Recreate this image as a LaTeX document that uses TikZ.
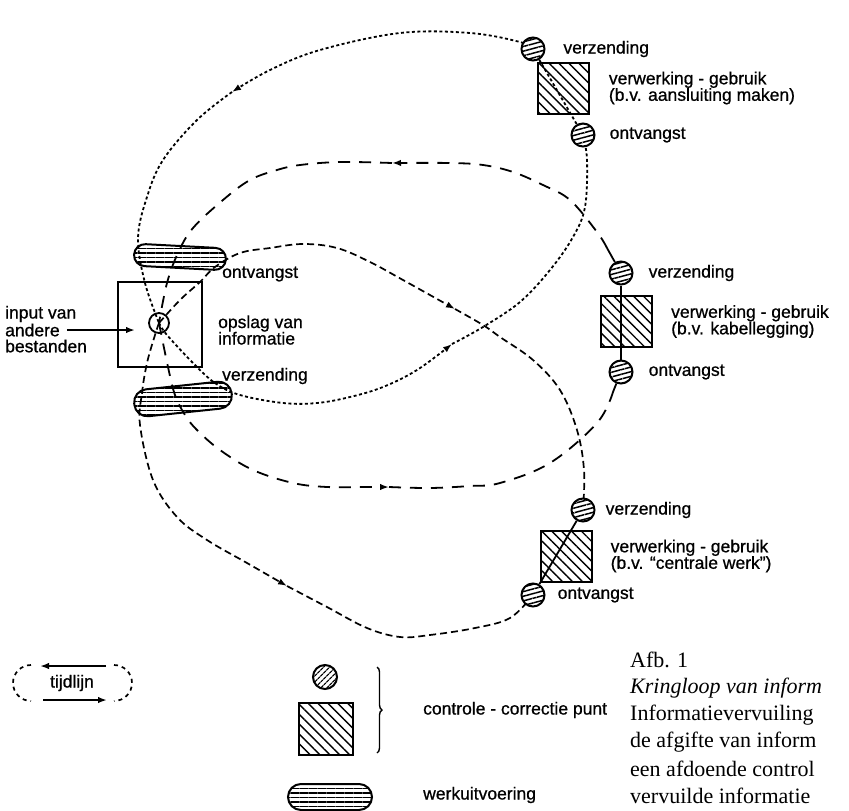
\documentclass[tikz,border=0pt]{standalone}
\usepackage{fontspec}
\newfontfamily\labelfont{Liberation Sans}[FakeBold=0.8]
\newfontfamily\capfont{Liberation Serif}
\usepackage{tikz}
\usetikzlibrary{positioning, arrows.meta, calc, shapes, decorations.pathreplacing, backgrounds, patterns.meta}
\tikzstyle{infotext} =[font=\labelfont\fontsize{17.5}{16.5}\selectfont, inner sep=0pt, anchor=west, align=left]
\tikzstyle{captext} =[font=\capfont\fontsize{22}{27}\selectfont, inner sep=0pt, anchor=west]
\tikzstyle{checkpt} =[circle, draw, line width=2pt, minimum size=23pt, inner sep=0pt, preaction={fill=white}, pattern={Lines[angle=15, distance=4.5pt, line width=1.5pt]}]
\tikzstyle{workbox} =[rectangle, draw, line width=2pt, minimum size=51pt, inner sep=0pt, pattern={Lines[angle=-45, distance=7pt, line width=1.4pt]}]
\tikzstyle{workpill} =[rectangle, draw, line width=2pt, inner sep=0pt, pattern={Lines[angle=0, distance=4.5pt, line width=1.3pt]}]
\tikzstyle{loopA} =[line width=1.8pt, dash pattern=on 3pt off 2.5pt]
\tikzstyle{loopB} =[line width=1.8pt, dash pattern=on 12pt off 9pt]
\tikzstyle{loopC} =[line width=1.7pt, dash pattern=on 7pt off 4pt]
\tikzstyle{tip} =[-{Latex[length=9pt, width=6.5pt]}]

\begin{document}
\begin{tikzpicture}[x=1pt, y=-1pt]
\useasboundingbox (0,0) rectangle (849,811);

% opslag
\node (store) [draw, line width=2pt, minimum width=84pt, minimum height=85pt] at (160,324.5) {};
\node (storec) [circle, draw, line width=1.8pt, minimum size=20pt, inner sep=0pt] at (159,323) {};
\node (recvpill) [workpill, minimum width=92pt, minimum height=22pt, rounded corners=11pt, rotate=-3] at (180,257) {};
\node (sendpill) [workpill, minimum width=98pt, minimum height=27pt, rounded corners=13pt, rotate=6] at (183,399) {};

\node (recvtxt) [infotext] at (222,274) {ontvangst};
\node (storetxt) [infotext] at (218,330) {opslag van\\informatie};
\node (sendtxt) [infotext] at (222,376) {verzending};

\node (inputA) [infotext] at (5,314) {input van};
\node (inputB) [infotext] at (5,330) {andere};
\node (inputC) [infotext] at (5,346) {bestanden};
\coordinate (inputtip) at (135,330);
\draw[tip, line width=1.8pt, shorten <=7pt] (inputB.east) -- (inputtip);

% verwerking 1
\node (r1out) [checkpt] at (533,49) {};
\node (r1box) [workbox] at (563.5,88) {};
\node (r1in) [checkpt] at (583,135) {};
\node (r1outtxt) [infotext, right=18pt of r1out] {verzending};
\node (r1boxtxt) [infotext, right=19pt of r1box] {verwerking - gebruik\\(b.v. aansluiting maken)};
\node (r1intxt) [infotext, right=14pt of r1in] {ontvangst};

% verwerking 2
\node (r2out) [checkpt] at (621,273) {};
\node (r2box) [workbox] at (626.5,321.5) {};
\node (r2in) [checkpt] at (621,372) {};
\node (r2outtxt) [infotext, right=15pt of r2out] {verzending};
\node (r2boxtxt) [infotext, right=18pt of r2box] {verwerking - gebruik\\(b.v. kabellegging)};
\node (r2intxt) [infotext, right=15pt of r2in] {ontvangst};

% verwerking 3
\node (r3out) [checkpt] at (583,510) {};
\node (r3box) [workbox] at (566,556) {};
\node (r3in) [checkpt] at (533,595) {};
\node (r3outtxt) [infotext, right=10pt of r3out] {verzending};
\node (r3boxtxt) [infotext, right=18pt of r3box] {verwerking - gebruik\\(b.v. “centrale werk”)};
\node (r3intxt) [infotext, right=12pt of r3in] {ontvangst};

\coordinate (arrA1) at (232,92);
\coordinate (arrA2) at (452,344);
\coordinate (arrB1) at (392,163);
\coordinate (arrB2) at (389,487);
\coordinate (arrC1) at (455,309);
\coordinate (arrC2) at (287,586);
\coordinate (r2a) at (607,248);
\coordinate (r2b) at (613,392);

\begin{scope}[on background layer]
% kringloop 1
\draw[loopA, tip] plot[smooth, tension=0.6] coordinates {(r1out) (520,42) (470,33) (400,33) (320,50) (270,70) (arrA1)};
\draw[loopA] plot[smooth, tension=0.6] coordinates {(arrA1) (197,120) (163,160) (147,197) (138,238) (145,283) (storec)};
\draw[loopA, tip] plot[smooth, tension=0.6] coordinates {(storec) (167,335) (193,363) (215,383) (240,395) (283,403) (317,403) (350,397) (383,387) (417,370) (arrA2)};
\draw[loopA] plot[smooth, tension=0.6] coordinates {(arrA2) (483,327) (520,302) (550,270) (573,237) (585,207) (587,160) (r1in)};
\draw[loopA] (r1out) -- (r1in);

% kringloop 2
\draw[line width=1.8pt] (r2out) -- (r2a);
\draw[loopB, tip] plot[smooth, tension=0.6] coordinates {(r2a) (597,232) (570,200) (543,185) (513,172) (483,165) (450,163) (arrB1)};
\draw[loopB] plot[smooth, tension=0.6] coordinates {(arrB1) (340,162) (300,165) (277,170) (250,180) (223,200) (193,228) (178,253) (167,283) (storec)};
\draw[loopB, tip] plot[smooth, tension=0.6] coordinates {(storec) (168,367) (175,395) (185,415) (197,430) (220,450) (253,470) (293,483) (327,487) (363,487) (arrB2)};
\draw[loopB] plot[smooth, tension=0.6] coordinates {(arrB2) (430,488) (470,486) (500,483) (550,463) (597,423) (r2b)};
\draw[line width=1.8pt] (r2b) -- (r2in);
\draw[line width=1.8pt] (r2out) -- (r2in);

% kringloop 3
\draw[loopC, tip] plot[smooth, tension=0.6] coordinates {(storec) (180,300) (200,282) (215,267) (240,253) (270,248) (303,244) (337,248) (370,262) (403,280) (arrC1)};
\draw[loopC] plot[smooth, tension=0.6] coordinates {(arrC1) (483,325) (500,337) (533,360) (560,390) (577,430) (584,470) (r3out)};
\draw[loopC, tip] plot[smooth, tension=0.6] coordinates {(storec) (155,335) (147,363) (142,393) (140,425) (153,480) (177,517) (207,540) (247,563) (arrC2)};
\draw[loopC] plot[smooth, tension=0.6] coordinates {(arrC2) (327,607) (367,628) (400,637) (430,635) (475,628) (510,618) (r3in)};
\draw[line width=1.8pt] (r3in) -- (r3out);
\end{scope}

% legenda
\node (tltxt) [infotext, anchor=center] at (72,683) {tijdlijn};
\coordinate (tlTopR) at (106,666);
\coordinate (tlTopL) at (40,666);
\coordinate (tlBotL) at (43,700);
\coordinate (tlBotR) at (107,700);
\draw[tip, line width=1.8pt] (tlTopR) -- (tlTopL);
\draw[tip, line width=1.8pt] (tlBotL) -- (tlBotR);
\draw[line width=1.7pt, dash pattern=on 4pt off 4pt] (31,665) arc (270:90:18);
\draw[line width=1.7pt, dash pattern=on 4pt off 4pt] (114,665) arc (-90:90:18);

\node (legcirc) [circle, draw, line width=2pt, minimum size=24pt, inner sep=0pt, pattern={Lines[angle=45, distance=4pt, line width=1.3pt]}] at (325,677) {};
\node (legbox) [workbox, minimum width=54pt, minimum height=52pt] at (326,729) {};
\node (legpill) [workpill, minimum width=84pt, minimum height=26pt, rounded corners=13pt] at (330,797) {};
\coordinate (brtop) at (377,667);
\coordinate (brbot) at (377,753);
\draw[decoration={brace, amplitude=5pt}, decorate, line width=1.4pt] (brtop) -- (brbot);
\node (legctrl) [infotext] at (423,710) {controle - correctie punt};
\node (legwork) [infotext] at (423,795) {werkuitvoering};

% onderschrift
\node (cap1) [captext] at (630,660) {Afb. 1};
\node (cap2) [captext] at (630,688) {\itshape Kringloop van inform};
\node (cap3) [captext] at (630,715) {Informatievervuiling};
\node (cap4) [captext] at (630,742) {de afgifte van inform};
\node (cap5) [captext] at (630,769) {een afdoende control};
\node (cap6) [captext] at (630,796) {vervuilde informatie};
\end{tikzpicture}
\end{document}
